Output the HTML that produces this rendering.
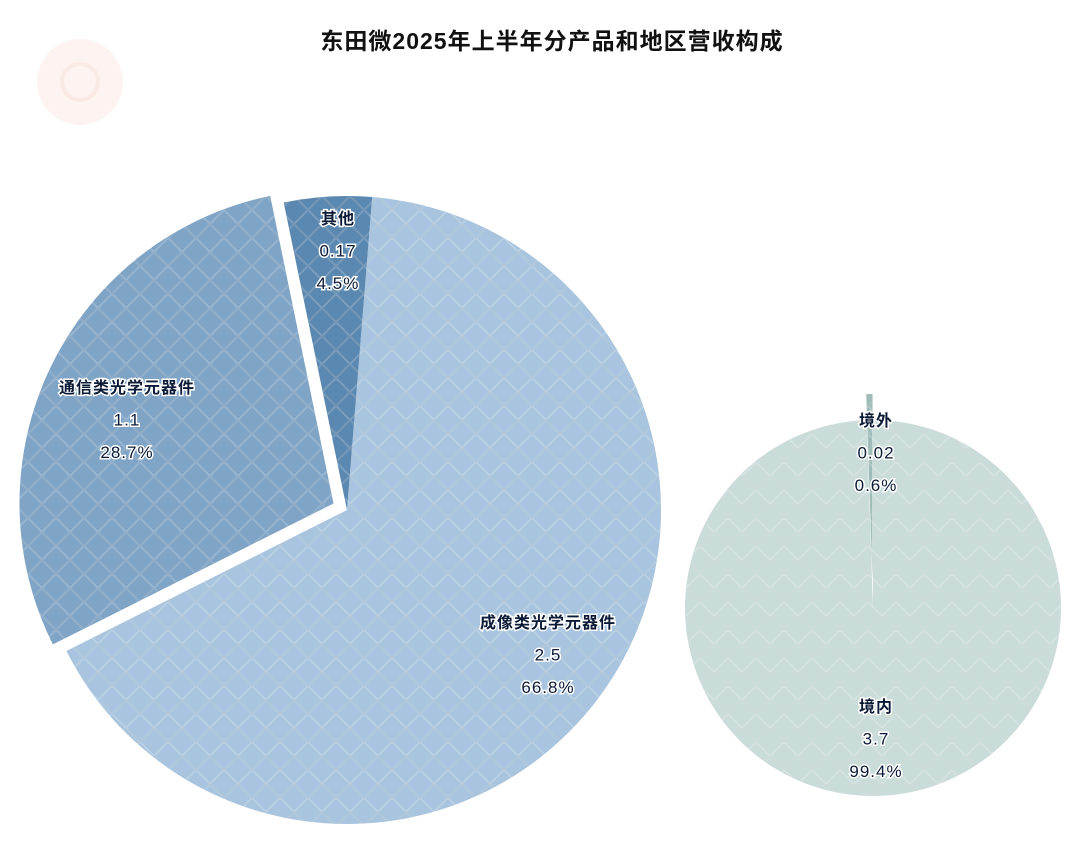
<!DOCTYPE html>
<html><head><meta charset="utf-8"><style>
body{margin:0;background:#fff;}
svg text{font-family:"Liberation Sans","Noto Sans CJK SC",sans-serif;}
.lbl{font-size:17px;fill:#0b1a36;stroke:#fff;stroke-width:3px;paint-order:stroke;text-anchor:middle;letter-spacing:1px}
.b{font-weight:bold;font-size:16px}
</style></head><body>
<svg id="c" width="1080" height="843">
<defs>
<pattern id="dia" width="28" height="28" patternUnits="userSpaceOnUse">
<path d="M0 14 L14 0 L28 14 L14 28 Z" fill="none" stroke="#ffffff" stroke-opacity="0.18" stroke-width="2"/>
<path d="M0 14 L14 0 L28 14" fill="none" stroke="#000" stroke-opacity="0.05" stroke-width="1"/>
</pattern>
</defs>
<circle cx="80" cy="82" r="43" fill="#fdf3f0"/>
<circle cx="80" cy="82" r="18" fill="none" stroke="#faeae5" stroke-width="4"/>
<text x="552" y="49" text-anchor="middle" font-size="23" font-weight="600" fill="#111" style="letter-spacing:1px">东田微2025年上半年分产品和地区营收构成</text>
<g id="slices"></g>
<g id="labels"></g>
</svg>
<script>
const productNames=["成像类光学元器件","通信类光学元器件","其他"];
const productValues=[2.5,1.1,0.17];
const productPct=["66.8%","28.7%","4.5%"];
const regionNames=["境内","境外"];
const regionValues=[3.7,0.02];
const regionPct=["99.4%","0.6%"];
const ns="http://www.w3.org/2000/svg";
const g=document.getElementById('slices');
function pt(cx,cy,r,a){const t=a*Math.PI/180;return [cx+r*Math.sin(t),cy-r*Math.cos(t)];}
function drawPie(cx,cy,r,vals,start,colors,explode,names){
  const tot=vals.reduce((a,b)=>a+b,0);let a=start;
  vals.forEach((v,i)=>{
    const sw=v/tot*360,mid=a+sw/2,d=explode[i];
    const ox=d*Math.sin(mid*Math.PI/180),oy=-d*Math.cos(mid*Math.PI/180);
    const p1=pt(cx+ox,cy+oy,r,a),p2=pt(cx+ox,cy+oy,r,a+sw);
    const path=`M${cx+ox} ${cy+oy} L${p1[0]} ${p1[1]} A${r} ${r} 0 ${sw>180?1:0} 1 ${p2[0]} ${p2[1]} Z`;
    [colors[i],'url(#dia)'].forEach((f,k)=>{
      const el=document.createElementNS(ns,'path');
      el.setAttribute('d',path);el.setAttribute('fill',f);
      if(k==0){
      
      
      }else{
      
      
      }
      g.appendChild(el);
    });
    a+=sw;
  });
}
drawPie(347,510,314,productValues,4.6,["#a8c4de","#7fa4c6","#5b88b0"],[0,15,0],productNames);
drawPie(873,608,188,regionValues,0,["#cadcd9","#9fbcb8"],[0,26],regionNames);
const L=document.getElementById('labels');
function lab(x,y,lines,name){
  lines.forEach((s,i)=>{
    const t=document.createElementNS(ns,'text');
    t.setAttribute('x',x);t.setAttribute('y',y+i*32.5);
    t.setAttribute('class','lbl'+(i==0?' b':''));
    t.textContent=s;
    
    
    L.appendChild(t);
  });
}
lab(338,224,[productNames[2],String(productValues[2]),productPct[2]],'label-other');
lab(127,393,[productNames[1],String(productValues[1]),productPct[1]],'label-communication');
lab(548,628,[productNames[0],String(productValues[0]),productPct[0]],'label-imaging');
lab(876,426,[regionNames[1],String(regionValues[1]),regionPct[1]],'label-overseas');
lab(876,712,[regionNames[0],String(regionValues[0]),regionPct[0]],'label-domestic');
</script>
</body></html>
